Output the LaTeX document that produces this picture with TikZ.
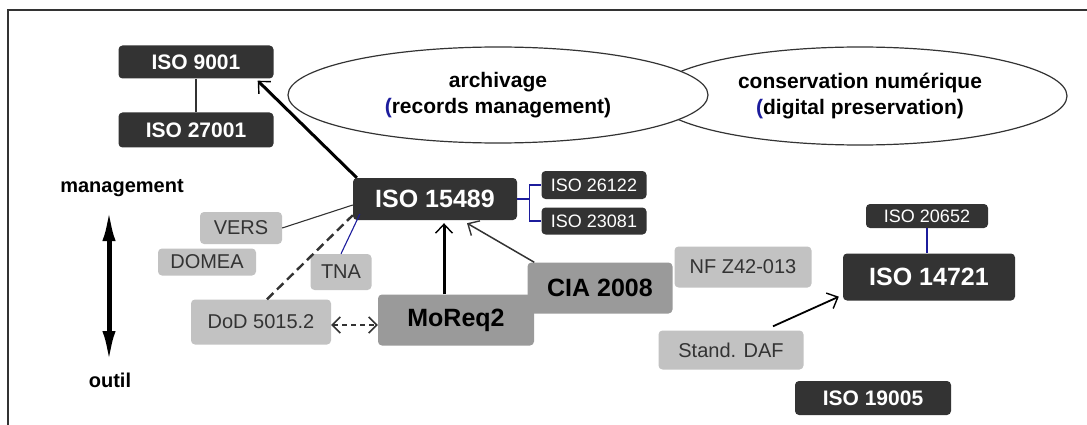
\documentclass[tikz,border=0pt]{standalone}
\usepackage{fontspec}
\setmainfont{Liberation Sans}
\usetikzlibrary{arrows.meta,shapes.geometric}

\definecolor{dunkelgrau}{HTML}{333333}
\definecolor{mittelgrau}{HTML}{9A9A9A}
\definecolor{hellgrau}{HTML}{C2C2C2}
\definecolor{blau}{HTML}{1C1C9C}

\newcommand{\fs}[1]{\fontsize{#1}{#1}\selectfont}

\begin{document}
\begin{tikzpicture}[x=1pt,y=-1pt,
        box/.style={rounded corners=4pt, inner sep=0pt, align=center},
        dunkel/.style={box, fill=dunkelgrau, text=white},
        hell/.style={box, fill=hellgrau, text=dunkelgrau, font=\fs{20}},
        mittel/.style={box, fill=mittelgrau, text=black, font=\fs{25}\bfseries},
        feld/.style={ellipse, draw=dunkelgrau, line width=1.2pt, fill=white,
            inner sep=0pt, minimum width=416, minimum height=96,
            align=center, font=\fs{21}\bfseries},
        pfeil/.style={-{Straight Barb[length=9pt,width=17pt,line width=1.4pt]}}
    ]
    \useasboundingbox (0,0) rectangle (1087,425);

    % Rahmen
    \draw[dunkelgrau, line width=1.5pt] (8,425) -- (8,10) -- (1087,10);

    % Bereiche
    \node[feld, minimum width=414, minimum height=98] (erhalt) at (860,96)
        {conservation numérique\\[5pt]{\color{blau}(}digital preservation)};
    \node[feld, minimum width=420, minimum height=96] (archiv) at (498,95)
        {archivage\\[5pt]{\color{blau}(}records management)};

    % Achse management / outil
    \node[font=\fs{20}\bfseries] (mgmt) at (122,188) {management};
    \node[font=\fs{20}\bfseries] (outil) at (110,380) {outil};
    \coordinate (oben) at (109,208);
    \coordinate (unten) at (109,364);
    \draw[line width=5pt,
        {Latex[length=33pt,width=13pt]}-{Latex[length=33pt,width=13pt]}]
        (oben) -- (unten);

    % Normen (dunkel)
    \node[dunkel, font=\fs{21}\bfseries, minimum width=155, minimum height=33] (i9001) at (196,62) {ISO 9001};
    \node[dunkel, font=\fs{21}\bfseries, minimum width=155, minimum height=35] (i27001) at (196,130) {ISO 27001};
    \node[dunkel, font=\fs{25}\bfseries, minimum width=164, minimum height=42] (i15489) at (435,199) {ISO 15489};
    \node[dunkel, font=\fs{18}, minimum width=105, minimum height=28] (i26122) at (594,185) {ISO 26122};
    \node[dunkel, font=\fs{18}, minimum width=105, minimum height=27] (i23081) at (594,221) {ISO 23081};
    \node[dunkel, font=\fs{18}, minimum width=122, minimum height=24] (i20652) at (927,216) {ISO 20652};
    \node[dunkel, font=\fs{25}\bfseries, minimum width=172, minimum height=47] (i14721) at (929,277) {ISO 14721};
    \node[dunkel, font=\fs{21}\bfseries, minimum width=156, minimum height=34] (i19005) at (873,398) {ISO 19005};

    % Werkzeuge (hell)
    \foreach \n/\t/\x/\y/\w/\h in {vers/VERS/241/228/82/32, domea/DOMEA/207/262/98/27,
            tna/TNA/341/272/61/36, dod/DoD 5015.2/261/322/140/45,
            nfz/NF Z42-013/743/267/137/41, daf/Stand. DAF/731/350/145/39} {
        \node[hell, minimum width=\w, minimum height=\h] (\n) at (\x,\y) {\t};
    }

    % Werkzeuge (mittel)
    \node[mittel, minimum width=145, minimum height=51] (cia) at (600,288) {CIA 2008};
    \node[mittel, minimum width=156, minimum height=51] (moreq) at (456,320) {MoReq2};

    % Verbindungen
    \draw[dunkelgrau, line width=1.2pt] (i9001.south) -- (i27001.north);
    \draw[pfeil, line width=3pt] ([xshift=4]i15489.north west) -- ([xshift=-16,yshift=-2]i9001.south east);
    \draw[blau, line width=1.2pt] (i15489.east) -- ++(12,0) |- (i26122.west);
    \draw[blau, line width=1.2pt] (i15489.east) -- ++(12,0) |- (i23081.west);
    \draw[dunkelgrau, line width=1.1pt] (vers.east) -- ([yshift=-6]i15489.west);
    \draw[dunkelgrau, line width=2.4pt, dash pattern=on 9pt off 5pt]
        ([xshift=6]dod.north) -- ([yshift=5]i15489.south west);
    \draw[blau, line width=1.1pt] (tna.north) -- ([xshift=7,yshift=6]i15489.south west);
    \draw[dunkelgrau, line width=1.6pt, dash pattern=on 5pt off 4pt,
        {Straight Barb[length=8pt,width=16pt,line width=1.5pt]}-{Straight Barb[length=8pt,width=16pt,line width=1.5pt]}]
        ([yshift=-3]dod.east) -- ([yshift=-3]dod.east -| moreq.west);
    \draw[pfeil, line width=3pt] ([xshift=-12]moreq.north) -- ([xshift=9,yshift=-3]i15489.south);
    \draw[pfeil, dunkelgrau, line width=1.5pt] ([xshift=7]cia.north west) -- ([xshift=32,yshift=-3]i15489.south);
    \draw[blau, line width=1.2pt] (i20652.south) -- (i20652.south |- i14721.north);
    \draw[pfeil, line width=1.8pt] ([xshift=42,yshift=4]daf.north) -- ([xshift=-4,yshift=4]i14721.south west);
\end{tikzpicture}
\end{document}
